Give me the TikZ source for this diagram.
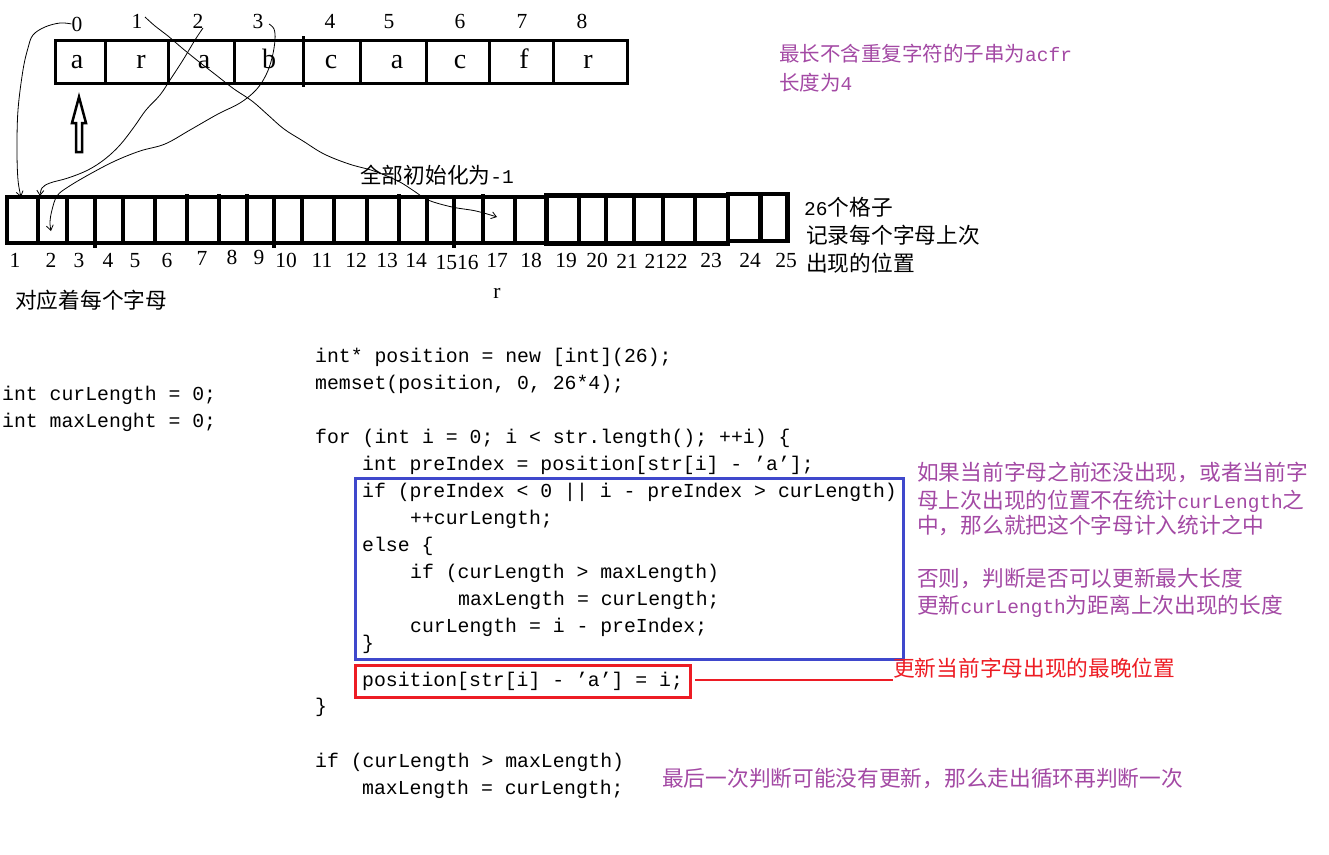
\documentclass[tikz,border=0pt]{standalone}
\usepackage{fontspec}
\setmainfont{Liberation Serif}
\newfontfamily\cjk{Noto Sans CJK SC}
\newfontfamily\mono{Liberation Mono}
\usetikzlibrary{arrows.meta}
\definecolor{ppl}{HTML}{A349A4}
\definecolor{bbox}{HTML}{3F48CC}
\definecolor{rbox}{HTML}{ED1C24}
\newcommand\latw[1]{{\mono\fontsize{19.5}{24}\selectfont #1}}
\begin{document}
\begin{tikzpicture}[x=1pt,y=-1pt,
  txt/.style={inner sep=0pt, anchor=base west},
  code/.style={txt, font=\mono\fontsize{19.8}{24}\selectfont},
  zh/.style={txt, font=\cjk\fontsize{21.7}{26}\selectfont},
  zhs/.style={txt, font=\cjk\fontsize{20.5}{25}\selectfont},
  idx/.style={inner sep=0pt, anchor=base, font=\fontsize{21.5}{25}\selectfont},
  letter/.style={inner sep=0pt, anchor=base, font=\fontsize{28}{32}\selectfont},
  arr/.style={line width=3pt},
  barr/.style={line width=4.2pt},
  hand/.style={line width=0.8pt, -{Straight Barb[length=5pt,width=7pt]}}
]
\useasboundingbox (0,0) rectangle (1329,854);

% ---------- top array ----------
\draw[arr] (55,40) rectangle (627,83);
\foreach \x in {105.5,168.8,234.6,360,426.3,489.6,553.3}
  \draw[arr] (\x,40) -- (\x,83);
\draw[arr] (303.3,36) -- (303.3,87);
\foreach \x/\t [count=\i from 0] in {77/a,141/r,204/a,269/b,331/c,397/a,460/c,524/f,588/r}
  \node[letter] (c\i) at (\x,68) {\t};
\node[idx] (i0) at (77,31) {0};
\foreach \x/\t in {137/1,198/2,258/3,330/4,389/5,460/6,522/7,582/8}
  \node[idx] (i\t) at (\x,28) {\t};

% ---------- hollow up arrow ----------
\draw[line width=2.5pt, line join=miter] (79,97) -- (86,123) -- (82,123) -- (82,152) -- (76,152) -- (76,123) -- (72,123) -- cycle;

% ---------- bottom array ----------
\draw[barr] (546.5,197) -- (6.7,197) -- (6.7,243) -- (546.5,243);
\draw[barr] (546.5,195.5) -- (728,195.5) -- (728,243.5) -- (546.5,243.5) -- cycle;
\draw[barr] (728,194) rectangle (787.5,241);
\foreach \x in {38.3,66.7,122.7,155,302.3,334.3,367.3,426.7,515}
  \draw[barr] (\x,197) -- (\x,243);
\foreach \x in {95,274,454.3}
  \draw[barr] (\x,197) -- (\x,248);
\foreach \x in {187.3,219,246.7,399,483.3}
  \draw[barr] (\x,194) -- (\x,243);
\foreach \x in {579,606,634,663,694.6}
  \draw[barr] (\x,195.5) -- (\x,243.5);
\draw[barr] (760.5,194) -- (760.5,241);
\coordinate (b1) at (21,197);
\coordinate (b1r) at (40,196);
\coordinate (b2) at (51,231);
\coordinate (b17) at (497,217);
\foreach \x/\t/\b in {15/1/267,51/2/267,79/3/267,108/4/267,135/5/267,167/6/267,202/7/265,232/8/264,259/9/264,286/10/267,322/11/267,356/12/267,387/13/267,416/14/267,457/1516/269,497/17/267,531/18/267,566/19/267,597/20/267,627/21/268,666/2122/268,711/23/267,750/24/267,786/25/267}
  \node[idx] (n\t) at (\x,\b) {\t};
\node[idx] (rlab) at (497,298) {r};

% ---------- hand drawn curves ----------
\draw[hand] plot[smooth, tension=0.6] coordinates {(i0.west) (60,23) (45,27) (33,35) (28,48) (23,70) (18,110) (17,150) (18,180) (b1)};
\draw[hand] plot[smooth, tension=0.6] coordinates {(203,28) (195,40) (183,60) (170,80) (160,95) (146,110) (134,127) (120,145) (105,159) (88,170) (68,178) (50,183) (42,188) (b1r)};
\draw[hand] plot[smooth, tension=0.6] coordinates {(269,24) (274,29) (275,40) (272,58) (266,75) (256,90) (240,103) (218,114) (190,130) (165,144) (140,151) (115,161) (90,174) (68,187) (57,196) (52,210) (50,222) (b2)};
\draw[hand] plot[smooth, tension=0.6] coordinates {(145,17) (155,26) (168,36) (182,48) (198,61) (216,75) (234,89) (252,101) (268,115) (284,129) (303,141) (324,154) (349,164) (374,171) (398,181) (414,191) (428,200) (452,207) (476,211) (b17)};

% ---------- black labels ----------
\node[zh] (init) at (360,183) {全部初始化为\latw{-1}};
\node[zh] (g1) at (804,215) {\latw{26}个格子};
\node[zh] (g2) at (806,243) {记录每个字母上次};
\node[zh] (g3) at (806,271) {出现的位置};
\node[zh] (corr) at (15,308) {对应着每个字母};

% ---------- purple annotations ----------
\node[zhs, text=ppl] (t1) at (779,61) {最长不含重复字符的子串为\latw{acfr}};
\node[zhs, text=ppl] (t2) at (779,90) {长度为\latw{4}};

% ---------- code ----------
\node[code] (v1) at (2,400) {int curLength = 0;};
\node[code] (v2) at (2,427) {int maxLenght = 0;};

\node[code] (l1) at (315,362) {int* position = new [int](26);};
\node[code] (l2) at (315,389) {memset(position, 0, 26*4);};
\node[code] (l3) at (315,443) {for (int i = 0; i < str.length(); ++i) \{};
\node[code] (l4) at (362,470) {int preIndex = position[str[i] - ’a’];};
\node[code] (l5) at (362,497) {if (preIndex < 0 || i - preIndex > curLength)};
\node[code] (l6) at (410,524) {++curLength;};
\node[code] (l7) at (362,551) {else \{};
\node[code] (l8) at (410,578) {if (curLength > maxLength)};
\node[code] (l9) at (458,605) {maxLength = curLength;};
\node[code] (l10) at (410,632) {curLength = i - preIndex;};
\node[code] (l11) at (362,649) {\}};
\node[code] (l12) at (362,686) {position[str[i] - ’a’] = i;};
\node[code] (l13) at (315,712) {\}};
\node[code] (l14) at (315,767) {if (curLength > maxLength)};
\node[code] (l15) at (362,794) {maxLength = curLength;};

% ---------- boxes ----------
\draw[bbox, line width=3pt] (355,478) rectangle (903,659);
\draw[rbox, line width=3pt] (355,665) rectangle (690,697);
\coordinate (rl) at (893,680);
\draw[rbox, line width=2.5pt] (695,680) -- (rl);

% ---------- right annotations ----------
\node[zh, text=ppl] (a1) at (917,480) {如果当前字母之前还没出现，或者当前字};
\node[zh, text=ppl] (a2) at (917,508) {母上次出现的位置不在统计\latw{curLength}之};
\node[zh, text=ppl] (a3) at (917,533) {中，那么就把这个字母计入统计之中};
\node[zh, text=ppl] (a4) at (917,586) {否则，判断是否可以更新最大长度};
\node[zh, text=ppl] (a5) at (917,613) {更新\latw{curLength}为距离上次出现的长度};
\node[zh, text=rbox] (rt) at (893,676) {更新当前字母出现的最晚位置};
\node[zh, text=ppl] (last) at (662,786) {最后一次判断可能没有更新，那么走出循环再判断一次};
\end{tikzpicture}
\end{document}
